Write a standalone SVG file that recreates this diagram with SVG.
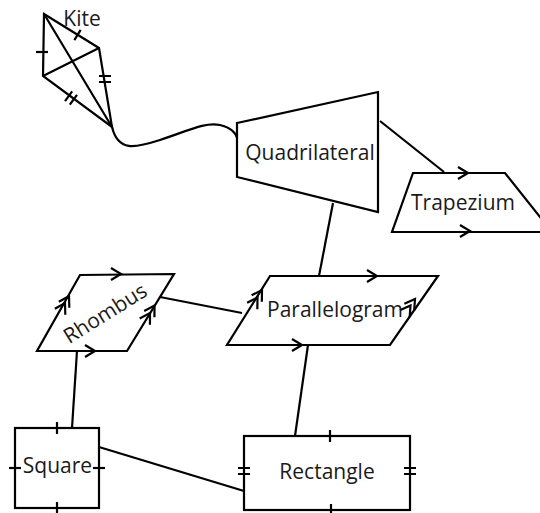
<svg xmlns="http://www.w3.org/2000/svg" xmlns:xlink="http://www.w3.org/1999/xlink" width="540" height="513" viewBox="0 0 540 513">
<style>
.s{fill:#fff;stroke:#000;stroke-width:2.2;stroke-linejoin:miter}
.l{fill:none;stroke:#000;stroke-width:2.2}
.t{font-family:"Open Sans","DejaVu Sans",sans-serif;font-size:21px;fill:#1a1a1a;text-anchor:middle}
</style>
<defs>
<path id="chev" d="M-10,-6 L0,0 L-10,6" fill="none" stroke="#000" stroke-width="2.2"/>
<path id="tick" d="M0,-6 L0,6" fill="none" stroke="#000" stroke-width="2.2"/>
<path id="dtick" d="M-3,-6 L-3,6 M3,-6 L3,6" fill="none" stroke="#000" stroke-width="2.2"/>
</defs>
<rect width="540" height="513" fill="#fff"/>
<g id="connectors">
<path class="l" d="M112,127 C118,152 135,148 160,140 C190,130 205,122 220,125 C230,127 236,133 238,140"/>
<path class="l" d="M380,121 L444,172"/>
<path class="l" d="M333,203 L319,276"/>
<path class="l" d="M160,297 L242,313"/>
<path class="l" d="M77,351 L72,428"/>
<path class="l" d="M308,345 L295,436"/>
<path class="l" d="M99,447 L244,491"/>
</g>
<g id="kite">
<path class="s" d="M44,14 L99,48 L112,127 L43,76 Z" fill="none"/>
<path class="l" d="M44,14 L112,127 M43,76 L99,48"/>
<use xlink:href="#tick" transform="translate(42,52) rotate(90)"/>
<use xlink:href="#tick" transform="translate(77.5,35) rotate(31.7)"/>
<use xlink:href="#dtick" transform="translate(105,79) rotate(90)"/>
<use xlink:href="#dtick" transform="translate(71,98) rotate(36.5)"/>
<text class="t" x="82" y="26">Kite</text>
</g>
<g id="quadrilateral">
<path class="s" d="M237,123 L378,92 L378,212 L237,177 Z"/>
<text class="t" x="310" y="160">Quadrilateral</text>
</g>
<g id="trapezium">
<path class="s" d="M413,173 L505,173 L552,232 L392,232 Z"/>
<use xlink:href="#chev" transform="translate(468,173)"/>
<use xlink:href="#chev" transform="translate(470,231)"/>
<text class="t" x="463" y="210">Trapezium</text>
</g>
<g id="parallelogram">
<path class="s" d="M270,276 L438,276 L390,345 L227,345 Z"/>
<use xlink:href="#chev" transform="translate(377,276)"/>
<use xlink:href="#chev" transform="translate(302,345)"/>
<use xlink:href="#chev" transform="translate(262,290) rotate(-58.2)"/>
<use xlink:href="#chev" transform="translate(257.5,297.5) rotate(-58.2)"/>
<use xlink:href="#chev" transform="translate(415,299) rotate(-55)"/>
<use xlink:href="#chev" transform="translate(410.5,305.5) rotate(-55)"/>
<text class="t" x="335" y="317">Parallelogram</text>
</g>
<g id="rhombus">
<path class="s" d="M80,275 L174,274 L127,351 L37,351 Z"/>
<use xlink:href="#chev" transform="translate(121,274)"/>
<use xlink:href="#chev" transform="translate(95,351)"/>
<use xlink:href="#chev" transform="translate(69,296) rotate(-60.6)"/>
<use xlink:href="#chev" transform="translate(65,303) rotate(-60.6)"/>
<use xlink:href="#chev" transform="translate(154.5,305.5) rotate(-58.7)"/>
<use xlink:href="#chev" transform="translate(150,313) rotate(-58.7)"/>
<text class="t" transform="translate(109,319.5) rotate(-32)" x="0" y="0">Rhombus</text>
</g>
<g id="square">
<rect class="s" x="15" y="428" width="84" height="80"/>
<use xlink:href="#tick" transform="translate(57,428)"/>
<use xlink:href="#tick" transform="translate(57,508)"/>
<use xlink:href="#tick" transform="translate(15,468) rotate(90)"/>
<use xlink:href="#tick" transform="translate(99,468) rotate(90)"/>
<text class="t" x="57.5" y="473">Square</text>
</g>
<g id="rectangle">
<rect class="s" x="244" y="436" width="166" height="74"/>
<use xlink:href="#tick" transform="translate(330,436)"/>
<use xlink:href="#tick" transform="translate(331,510)"/>
<use xlink:href="#dtick" transform="translate(244,471) rotate(90)"/>
<use xlink:href="#dtick" transform="translate(410,471) rotate(90)"/>
<text class="t" x="327" y="479">Rectangle</text>
</g>
</svg>
